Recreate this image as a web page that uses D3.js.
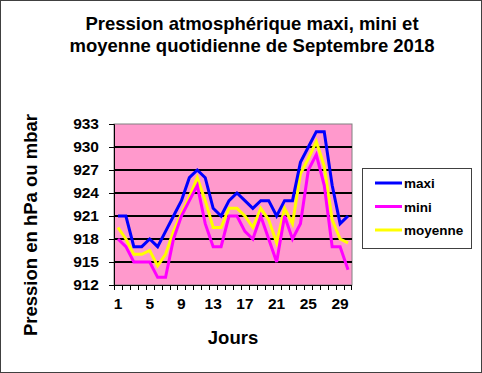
<!DOCTYPE html>
<html lang="fr">
<head>
<meta charset="utf-8">
<title>Pression atmosphérique Septembre 2018</title>
<style>
  body {margin: 0; background: #fff;}
  svg  {display: block; font-family: Arial, "Liberation Sans", sans-serif;}
</style>
</head>
<body>
<svg id="chart" width="482" height="373"></svg>
<script src="https://d3js.org/d3.v7.min.js"></script>
<script>
// jours du mois
const days = d3.range(1, 31);
const maxi = [921, 921, 917, 917, 918, 917, 919, 921, 923, 926, 927, 926, 922, 921, 923,
              924, 923, 922, 923, 923, 921, 923, 923, 928, 930, 932, 932, 925, 920, 921];
const mini = [918, 917, 915, 915, 915, 913, 913, 918, 921, 923, 925, 920, 917, 917, 921,
              921, 919, 918, 921, 918, 915, 921, 918, 920, 927, 929, 925, 917, 917, 914];
const moyenne = [919.5, 918, 916, 916, 916.5, 914.5, 916, 919, 921.3, 923.5, 926, 923, 919.5, 919.5, 922,
                 922, 921, 919.5, 922, 920.5, 917.5, 922, 920, 926.5, 928.5, 930.7, 927.5, 920.5, 918, 917.5];
const yTicks = [912, 915, 918, 921, 924, 927, 930, 933];
const xLabels = [1, 5, 9, 13, 17, 21, 25, 29];
const series = [
  {name: "maxi", values: maxi, color: "#0000ff"},
  {name: "mini", values: mini, color: "#ff00ff"},
  {name: "moyenne", values: moyenne, color: "#ffff00"}
];

const svg = d3.select("#chart");
const plot = {left: 114, right: 352, top: 124, bottom: 285};

// cadre extérieur
svg.append("rect")
   .attr("x", 0.5).attr("y", 0.5).attr("width", 481).attr("height", 372)
   .attr("fill", "#fff").attr("stroke", "#404040");

const x = d3.scaleBand().domain(days).range([plot.left, plot.right]);
const y = d3.scaleLinear().domain([912, 933]).range([plot.bottom, plot.top]);

// fond rose
svg.append("rect")
   .attr("x", plot.left).attr("y", plot.top)
   .attr("width", plot.right - plot.left).attr("height", plot.bottom - plot.top)
   .attr("fill", "#ff99cc").attr("stroke", "#808080");

// quadrillage
svg.append("g")
   .selectAll("line")
   .data(yTicks.slice(1, -1))
   .join("line")
     .attr("x1", plot.left).attr("x2", plot.right)
     .attr("y1", d => y(d)).attr("y2", d => y(d))
     .attr("stroke", "#000").attr("stroke-width", 2);

// axe Y
const yAxis = svg.append("g")
   .attr("transform", `translate(${plot.left},0)`)
   .call(d3.axisLeft(y).tickValues(yTicks).tickSize(5).tickPadding(10));
yAxis.select(".domain").attr("stroke", "#000");
yAxis.selectAll("line").attr("stroke", "#000");
yAxis.selectAll("text")
     .attr("font-size", 15.5).attr("font-weight", "bold").attr("fill", "#000")
     .attr("font-family", "Arial, 'Liberation Sans', sans-serif");

// axe X : traits aux limites des catégories
const xAxis = svg.append("g");
xAxis.append("line")
     .attr("x1", plot.left).attr("x2", plot.right)
     .attr("y1", plot.bottom + 0.5).attr("y2", plot.bottom + 0.5)
     .attr("stroke", "#000");
xAxis.selectAll(".tk")
     .data(days.concat([31]))
     .join("line")
       .attr("class", "tk")
       .attr("x1", d => d <= 30 ? Math.round(x(d)) + 0.5 : plot.right - 0.5)
       .attr("x2", d => d <= 30 ? Math.round(x(d)) + 0.5 : plot.right - 0.5)
       .attr("y1", plot.bottom).attr("y2", plot.bottom + 5)
       .attr("stroke", "#000");
xAxis.selectAll("text")
     .data(xLabels)
     .join("text")
       .attr("x", d => x(d) + x.bandwidth() / 2)
       .attr("y", 309)
       .attr("text-anchor", "middle")
       .attr("font-size", 15.5).attr("font-weight", "bold")
       .text(d => d);

// courbes
const line = d3.line()
   .x((d, i) => x(days[i]) + x.bandwidth() / 2)
   .y(d => y(d));

svg.append("g")
   .selectAll("path")
   .data(series.slice().reverse())
   .join("path")
     .attr("d", d => line(d.values))
     .attr("fill", "none")
     .attr("stroke", d => d.color)
     .attr("stroke-width", 3)
     .attr("stroke-linejoin", "miter");

// titres
svg.append("text")
   .attr("x", 252).attr("y", 30)
   .attr("text-anchor", "middle")
   .attr("font-size", 18.5).attr("font-weight", "bold")
   .selectAll("tspan")
   .data(["Pression atmosphérique maxi, mini et", "moyenne quotidienne de Septembre 2018"])
   .join("tspan")
     .attr("x", 252)
     .attr("dy", (d, i) => i ? 22 : 0)
     .text(d => d);

svg.append("text")
   .attr("x", 233).attr("y", 344)
   .attr("text-anchor", "middle")
   .attr("font-size", 18.5).attr("font-weight", "bold")
   .text("Jours");

svg.append("text")
   .attr("transform", "translate(37,225) rotate(-90)")
   .attr("text-anchor", "middle")
   .attr("font-size", 18.5).attr("font-weight", "bold")
   .text("Pression en hPa ou mbar");

// légende
const legend = svg.append("g");
legend.append("rect")
      .attr("x", 362.5).attr("y", 168.5).attr("width", 109).attr("height", 80)
      .attr("fill", "#fff").attr("stroke", "#404040");
const item = legend.selectAll(".item")
      .data(series)
      .join("g")
        .attr("class", "item")
        .attr("transform", (d, i) => `translate(0,${183 + i * 23.5})`);
item.append("line")
    .attr("x1", 375).attr("x2", 402)
    .attr("stroke", d => d.color).attr("stroke-width", 3);
item.append("text")
    .attr("x", 404).attr("y", 5)
    .attr("font-size", 13.5).attr("font-weight", "bold")
    .text(d => d.name);
</script>
</body>
</html>
